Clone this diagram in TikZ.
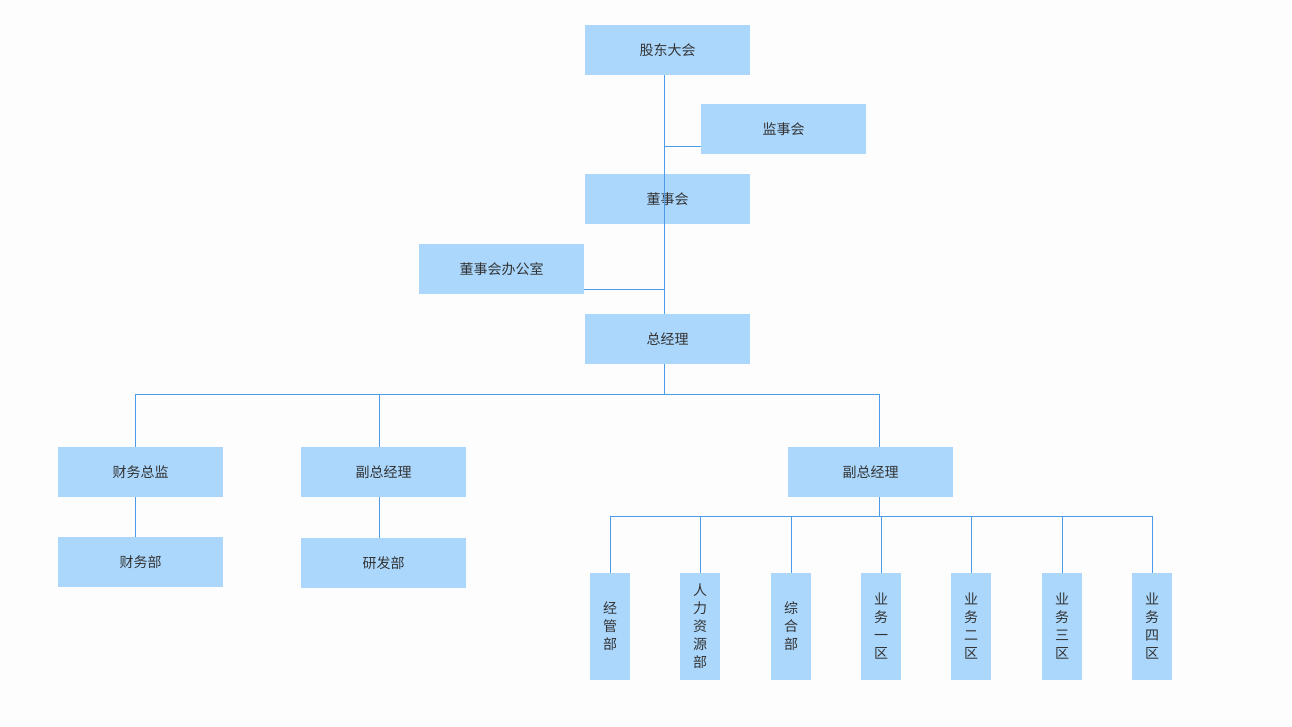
\documentclass[tikz,border=0pt]{standalone}
\usepackage{fontspec}
\setmainfont{Noto Sans CJK SC}
\definecolor{boxblue}{HTML}{ABD7FD}
\definecolor{linkblue}{HTML}{4A9BE8}
\definecolor{bgwhite}{HTML}{FDFDFD}
\definecolor{txtgray}{HTML}{333333}
\begin{document}
\begin{tikzpicture}[x=1pt,y=-1pt,
    box/.style={fill=boxblue, text=txtgray, inner sep=0pt, minimum width=165pt, minimum height=50pt, font=\fontsize{14}{17}\selectfont},
    vbox/.style={fill=boxblue, text=txtgray, inner sep=0pt, minimum width=40pt, minimum height=107pt, align=center, font=\fontsize{14}{18}\selectfont},
    link/.style={draw=linkblue, line width=1pt}]
  \fill[bgwhite] (0,0) rectangle (1292,727);
  \useasboundingbox (0,0) rectangle (1292,727);
  \node[box] (gd) at (667.5,50) {股东大会};
  \node[box] (jsh) at (783.5,129) {监事会};
  \node[box] (dsh) at (667.5,199) {董事会};
  \node[box] (bgs) at (501.5,269) {董事会办公室};
  \node[box] (zjl) at (667.5,339) {总经理};
  \node[box] (cwzj) at (140.5,472) {财务总监};
  \node[box] (cwb) at (140.5,562) {财务部};
  \node[box] (fz1) at (383.5,472) {副总经理};
  \node[box] (yfb) at (383.5,563) {研发部};
  \node[box] (fz2) at (870.5,472) {副总经理};
  \node[vbox] (jgb) at (610,626.5) {经\\管\\部};
  \node[vbox] (rlb) at (700,626.5) {人\\力\\资\\源\\部};
  \node[vbox] (zhb) at (791,626.5) {综\\合\\部};
  \node[vbox] (yw1) at (881,626.5) {业\\务\\一\\区};
  \node[vbox] (yw2) at (971,626.5) {业\\务\\二\\区};
  \node[vbox] (yw3) at (1062,626.5) {业\\务\\三\\区};
  \node[vbox] (yw4) at (1152,626.5) {业\\务\\四\\区};
  \coordinate (bus1) at (664,394);
  \coordinate (bus2) at (879,516);
  \draw[link] ([xshift=-3.5pt]gd.south) -- ([xshift=-3.5pt]zjl.north);
  \draw[link] ([yshift=-18pt]jsh.west) -- ([yshift=-18pt]jsh.west -| bus1);
  \draw[link] ([yshift=-20pt]bgs.east) -- ([yshift=-20pt]bgs.east -| bus1);
  \draw[link] ([xshift=-3.5pt]zjl.south) -- (bus1);
  \draw[link] ([xshift=-5.5pt]cwzj.north) -- ([xshift=-5.5pt]cwzj.north |- bus1) -| ([xshift=8.5pt]fz2.north);
  \draw[link] ([xshift=-4.5pt]fz1.north) -- ([xshift=-4.5pt]fz1.north |- bus1);
  \draw[link] ([xshift=-5.5pt]cwzj.south) -- ([xshift=-5.5pt]cwb.north);
  \draw[link] ([xshift=-4.5pt]fz1.south) -- ([xshift=-4.5pt]yfb.north);
  \draw[link] ([xshift=8.5pt]fz2.south) -- (bus2);
  \draw[link] (jgb.north) -- (jgb.north |- bus2) -| (yw4.north);
  \foreach \n in {rlb,zhb,yw1,yw2,yw3}
    \draw[link] (\n.north) -- (\n.north |- bus2);
\end{tikzpicture}
\end{document}
